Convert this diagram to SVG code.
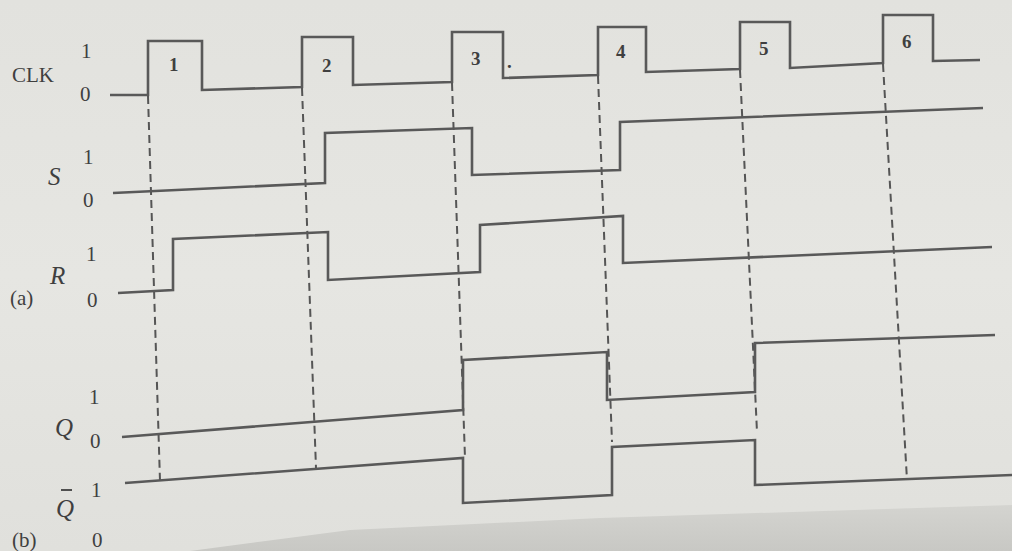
<svg xmlns="http://www.w3.org/2000/svg" width="1012" height="551" viewBox="0 0 1012 551">
<defs>
<style>
.sig{fill:none;stroke:#595959;stroke-width:2.6;stroke-linejoin:miter}
.dash{fill:none;stroke:#555;stroke-width:2;stroke-dasharray:8 5}
.t{font-family:"Liberation Serif","Times New Roman",serif;fill:#3f3f3f;font-size:21px}
.it{font-style:italic;font-size:25px}
.pn{font-weight:bold;font-size:19px}
</style>
<linearGradient id="bg" x1="0" y1="0" x2="0" y2="1">
<stop offset="0" stop-color="#e2e2de"/>
<stop offset="0.5" stop-color="#e6e6e2"/>
<stop offset="1" stop-color="#e0e0dc"/>
</linearGradient>
<linearGradient id="sh" x1="0" y1="0" x2="0" y2="1">
<stop offset="0" stop-color="#d4d4d0"/>
<stop offset="1" stop-color="#c8c8c4"/>
</linearGradient>
</defs>
<rect width="1012" height="551" fill="url(#bg)"/>
<polygon points="190,551 350,530 600,518 1012,505 1012,551" fill="url(#sh)"/>

<g id="connectors">
<line class="dash" x1="148" y1="96" x2="160" y2="481"/>
<line class="dash" x1="302" y1="88" x2="316" y2="468"/>
<line class="dash" x1="452" y1="83" x2="465" y2="458"/>
<line class="dash" x1="598" y1="76" x2="612" y2="442"/>
<line class="dash" x1="740" y1="70" x2="757" y2="432"/>
<line class="dash" x1="883" y1="64" x2="907" y2="480"/>
</g>

<g id="clk">
<polyline class="sig" points="110,95 148,95 148,41 202,41 202,90 302,87 302,37 353,37 353,85 452,82 452,32 503,32 503,78 598,75 598,27 646,27 646,72 740,69 740,22 790,22 790,68 883,63 883,15 933,15 933,61 980,60"/>
<text class="t" x="12" y="82" font-size="25">CLK</text>
<text class="t" x="81" y="58">1</text>
<text class="t" x="80" y="101">0</text>
<text class="t pn" x="169" y="71">1</text>
<text class="t pn" x="322" y="72">2</text>
<text class="t pn" x="471" y="65">3</text>
<text class="t pn" x="507" y="68">.</text>
<text class="t pn" x="616" y="58">4</text>
<text class="t pn" x="759" y="55">5</text>
<text class="t pn" x="902" y="48">6</text>
</g>

<g id="s">
<polyline class="sig" points="113,193 325,183 325,133 472,128 472,175 620,170 620,122 983,108"/>
<text class="t it" x="48" y="185">S</text>
<text class="t" x="83" y="164">1</text>
<text class="t" x="83" y="207">0</text>
</g>

<g id="r">
<polyline class="sig" points="118,293 173,290 173,239 328,232 328,280 480,272 480,225 623,216 623,263 992,247"/>
<text class="t it" x="50" y="284">R</text>
<text class="t" x="86" y="261">1</text>
<text class="t" x="87" y="307">0</text>
<text class="t" x="10" y="305">(a)</text>
</g>

<g id="q">
<polyline class="sig" points="122,437 463,410 463,360 607,352 607,400 755,392 755,343 995,335"/>
<text class="t it" x="55" y="436">Q</text>
<text class="t" x="89" y="404">1</text>
<text class="t" x="90" y="448">0</text>
</g>

<g id="qbar">
<polyline class="sig" points="125,483 463,458 463,503 612,495 612,447 755,440 755,485 1012,475"/>
<text class="t it" x="56" y="517">Q</text>
<line x1="61" y1="490" x2="72" y2="490" stroke="#3f3f3f" stroke-width="1.8"/>
<text class="t" x="91" y="497">1</text>
<text class="t" x="92" y="547">0</text>
<text class="t" x="12" y="547">(b)</text>
</g>
</svg>
